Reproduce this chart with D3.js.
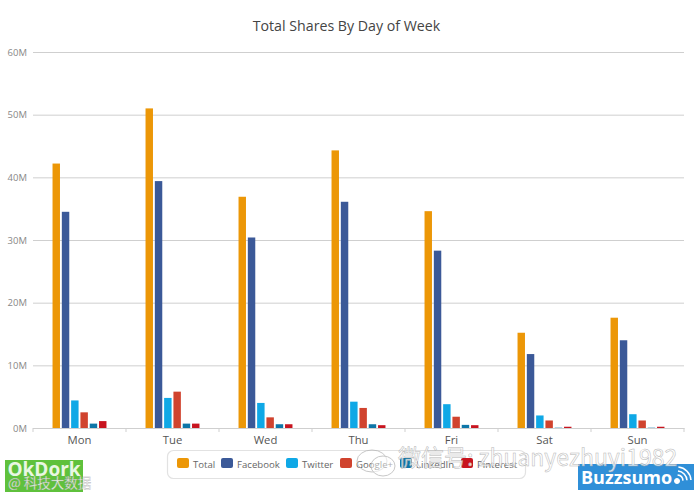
<!DOCTYPE html>
<html lang="en">
<head>
<meta charset="utf-8">
<title>Total Shares By Day of Week</title>
<script src="https://d3js.org/d3.v7.min.js"></script>
<style>
  html, body { margin: 0; padding: 0; background: #fff; }
  svg { display: block; font-family: "Open Sans", sans-serif; }
</style>
</head>
<body>
<script>
const days = ['Mon', 'Tue', 'Wed', 'Thu', 'Fri', 'Sat', 'Sun'];
const seriesNames = ['Total', 'Facebook', 'Twitter', 'Google+', 'LinkedIn', 'Pinterest'];
const seriesColors = ['#ec9707', '#3b5998', '#0fa8e6', '#d0432e', '#0e76a8', '#c8141f'];
const total = [42.2, 51, 36.9, 44.3, 34.6, 15.2, 17.6];
const facebook = [34.5, 39.4, 30.4, 36.1, 28.3, 11.8, 14];
const twitter = [4.4, 4.8, 4, 4.2, 3.8, 2, 2.2];
const googlePlus = [2.5, 5.8, 1.7, 3.2, 1.8, 1.2, 1.2];
const linkedIn = [0.7, 0.7, 0.6, 0.6, 0.5, 0.05, 0.05];
const pinterest = [1.1, 0.7, 0.6, 0.45, 0.45, 0.2, 0.2];
const seriesValues = [total, facebook, twitter, googlePlus, linkedIn, pinterest];
const yTicks = [0, 10, 20, 30, 40, 50, 60];

const w = 700;
const h = 496;
const plotLeft = 33, plotRight = 684, plotTop = 52, plotBottom = 428;

const svg = d3.select('body').append('svg').attr('width', w).attr('height', h);

const x = d3.scaleBand().domain(days).range([plotLeft, plotRight]).paddingInner(0.4).paddingOuter(0.2);
const xInner = d3.scaleBand().domain(seriesNames).range([0, x.bandwidth()]).paddingInner(0.2).paddingOuter(0.1);
const y = d3.scaleLinear().domain([0, 60]).range([plotBottom, plotTop]);

svg.append('text')
  .attr('x', 346.5).attr('y', 31)
  .attr('text-anchor', 'middle')
  .attr('font-size', 14.2)
  .attr('fill', '#444')
  .text('Total Shares By Day of Week');

// gridlines + y labels
const yAxis = svg.append('g')
  .attr('transform', `translate(${plotLeft},0)`)
  .call(d3.axisLeft(y).tickValues(yTicks).tickSize(-(plotRight - plotLeft)).tickPadding(6).tickFormat(d => d + 'M'));
yAxis.select('.domain').remove();
yAxis.selectAll('line').attr('stroke', '#cfcfcf');
yAxis.selectAll('text').attr('fill', '#888').attr('font-size', 9.5).attr('font-family', '"Open Sans", sans-serif');

// bars
seriesValues.forEach((vals, s) => {
  svg.append('g').selectAll('rect')
    .data(vals)
    .enter()
    .append('rect')
    .attr('x', (d, i) => x(days[i]) + xInner(seriesNames[s]))
    .attr('y', d => y(d))
    .attr('width', xInner.bandwidth())
    .attr('height', d => y(0) - y(d))
    .attr('fill', seriesColors[s]);
});

// x axis, ticks fall between the days
const step = x.step();
const xAxis = svg.append('g')
  .attr('transform', `translate(0,${plotBottom})`)
  .call(d3.axisBottom(x).tickSize(0).tickPadding(8));
xAxis.select('.domain').attr('stroke', '#cfcfcf');
xAxis.selectAll('text').attr('fill', '#555').attr('font-size', 11.3).attr('font-family', '"Open Sans", sans-serif');
svg.append('g').selectAll('line')
  .data(days)
  .enter()
  .append('line')
  .attr('x1', d => x(d) - step * 0.2)
  .attr('x2', d => x(d) - step * 0.2)
  .attr('y1', plotBottom)
  .attr('y2', plotBottom + 4)
  .attr('stroke', '#cfcfcf');
svg.append('line').attr('x1', plotRight).attr('x2', plotRight).attr('y1', plotBottom).attr('y2', plotBottom + 4).attr('stroke', '#cfcfcf');

// legend
const legend = svg.append('g');
legend.append('rect')
  .attr('x', 167.5).attr('y', 450.5)
  .attr('width', 358).attr('height', 28).attr('rx', 6)
  .attr('fill', '#fff').attr('stroke', '#e2e2e2').attr('stroke-width', 1.2);
const legendX = [177, 221, 286, 340, 400, 461];
seriesNames.forEach((name, i) => {
  const g = legend.append('g').attr('transform', `translate(${legendX[i]},458)`);
  g.append('rect').attr('width', 12).attr('height', 10).attr('rx', 2).attr('fill', seriesColors[i]);
  g.append('text').attr('x', 16).attr('y', 10).attr('font-size', 9.6).attr('fill', '#666').text(name);
});

// logos
svg.append('rect').attr('x', 5).attr('y', 460).attr('width', 78).attr('height', 32).attr('fill', '#5fc13c');
svg.append('text').attr('x', 44).attr('y', 476).attr('text-anchor', 'middle')
  .attr('font-size', 19).attr('font-weight', 700).attr('fill', '#e9f7e2').text('OkDork');
svg.append('rect').attr('x', 578).attr('y', 464).attr('width', 116).attr('height', 26).attr('fill', '#2f8fd8');
svg.append('text').attr('x', 581).attr('y', 484)
  .attr('font-size', 18).attr('font-weight', 700).attr('fill', '#fff').text('Buzzsumo');
const wave = svg.append('g').attr('transform', 'translate(677,481)').attr('fill', 'none').attr('stroke', '#fff');
wave.append('circle').attr('r', 2.5).attr('fill', '#fff');
[6, 10, 14].forEach(r => {
  wave.append('path').attr('stroke-width', 1.6)
    .attr('d', d3.arc()({ innerRadius: r, outerRadius: r, startAngle: 0.1, endAngle: 1.5 }));
});

// watermark
svg.append('text').attr('x', 8).attr('y', 488)
  .attr('font-family', '"Noto Sans CJK SC"').attr('font-size', 13.5)
  .attr('fill', '#fff').attr('opacity', 0.85).attr('stroke', '#999').attr('stroke-width', 0.3)
  .text('@ 科技大数据');
const mark = svg.append('g').attr('opacity', 0.8);
mark.append('ellipse').attr('cx', 372).attr('cy', 461).attr('rx', 15).attr('ry', 11)
  .attr('fill', 'none').attr('stroke', '#bbb').attr('stroke-width', 1);
mark.append('ellipse').attr('cx', 383).attr('cy', 466).attr('rx', 12).attr('ry', 10)
  .attr('fill', '#fff').attr('fill-opacity', 0.6).attr('stroke', '#bbb').attr('stroke-width', 1);
mark.append('text').attr('x', 398).attr('y', 466)
  .attr('font-family', '"Noto Sans CJK SC"').attr('font-size', 23)
  .attr('fill', '#fff').attr('stroke', '#a5a5a5').attr('stroke-width', 0.5)
  .text('微信号: zhuanyezhuyi1982');
</script>
</body>
</html>
